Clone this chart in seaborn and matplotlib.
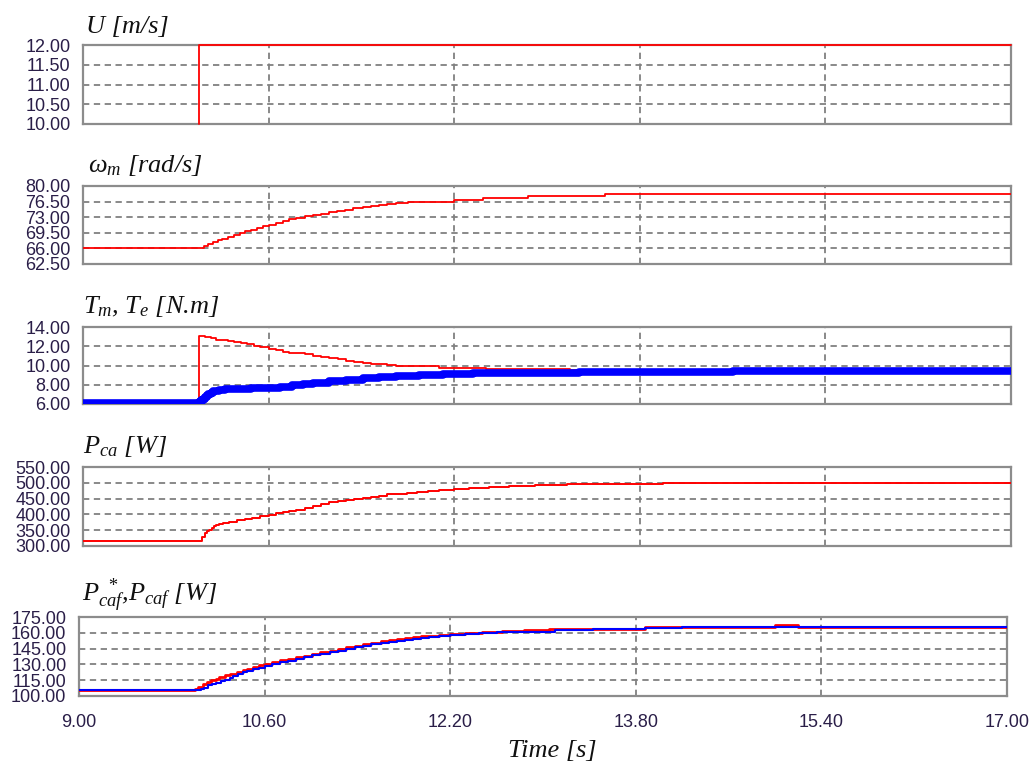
import matplotlib
matplotlib.use("Agg")
import matplotlib.pyplot as plt
import seaborn as sns

# ---------------- data ----------------
x_ticks = [9.00, 10.60, 12.20, 13.80, 15.40, 17.00]

# Panel 1: wind speed U [m/s]
t_u = [10.0, 10.0, 17.0]
u_val = [10.0, 12.0, 12.0]

# Panel 2: rotor speed omega_m [rad/s]
t_w = [9.0, 10.0, 10.04, 10.08, 10.12, 10.16, 10.2, 10.25, 10.3, 10.35, 10.4,
       10.45, 10.5, 10.55, 10.6, 10.66, 10.72, 10.78, 10.84, 10.91, 10.98, 11.05,
       11.12, 11.19, 11.26, 11.33, 11.41, 11.48, 11.55, 11.62, 11.7, 11.8, 11.93,
       12.2, 12.45, 12.84, 13.5, 17.0]
w_val = [66.0, 66.2, 66.6, 67.0, 67.4, 67.8, 68.2, 68.6, 69.0, 69.4, 69.8,
         70.2, 70.6, 71.0, 71.3, 71.7, 72.1, 72.5, 72.8, 73.2, 73.5, 73.8,
         74.1, 74.4, 74.7, 75.0, 75.2, 75.5, 75.7, 75.9, 76.1, 76.3, 76.5,
         76.9, 77.3, 77.8, 78.1, 78.1]

# Panel 3: mechanical torque Tm (red) and electromagnetic torque Te (blue) [N.m]
t_tm = [9.0, 10.0, 10.05, 10.1, 10.15, 10.2, 10.25, 10.3, 10.36, 10.41, 10.47,
        10.53, 10.6, 10.66, 10.72, 10.78, 10.84, 10.91, 10.98, 11.05, 11.12, 11.2,
        11.27, 11.34, 11.41, 11.48, 11.55, 11.62, 11.7, 11.84, 12.07, 12.47, 13.2, 17.0]
tm_val = [6.1, 13.1, 12.95, 12.85, 12.7, 12.6, 12.5, 12.4, 12.3, 12.2, 12.05,
          11.9, 11.7, 11.6, 11.45, 11.35, 11.25, 11.15, 11.0, 10.9, 10.75, 10.65,
          10.5, 10.4, 10.3, 10.2, 10.15, 10.05, 10.0, 9.9, 9.73, 9.6, 9.55, 9.55]
t_te = [9.0, 10.0, 10.02, 10.04, 10.06, 10.08, 10.1, 10.12, 10.14, 10.17, 10.22,
        10.3, 10.45, 10.6, 10.7, 10.8, 10.9, 10.98, 11.12, 11.27, 11.41, 11.55,
        11.7, 11.9, 12.1, 12.36, 12.8, 13.28, 14.6, 17.0]
te_val = [6.1, 6.2, 6.4, 6.6, 6.8, 7.0, 7.15, 7.3, 7.4, 7.5, 7.58,
          7.6, 7.62, 7.68, 7.8, 7.95, 8.1, 8.23, 8.35, 8.48, 8.65, 8.82,
          8.9, 8.98, 9.08, 9.17, 9.22, 9.3, 9.38, 9.38]

# Panel 4: Pca [W]
t_pca = [9.0, 10.03, 10.05, 10.07, 10.09, 10.11, 10.13, 10.15, 10.17, 10.21, 10.26,
         10.33, 10.4, 10.46, 10.53, 10.6, 10.66, 10.72, 10.78, 10.84, 10.91, 10.98,
         11.05, 11.12, 11.2, 11.27, 11.34, 11.41, 11.48, 11.55, 11.62, 11.7, 11.79,
         11.88, 11.97, 12.07, 12.2, 12.33, 12.5, 12.67, 12.9, 13.17, 14.0, 17.0]
pca_val = [317, 330, 340, 347, 352, 357, 362, 366, 369, 373, 376,
           381, 385, 389, 394, 399, 403, 407, 411, 415, 421, 427,
           433, 438, 442, 446, 449, 452, 456, 459, 463, 466, 469,
           471, 474, 476, 479, 482, 486, 489, 493, 497, 500, 500]

# Panel 5: Pcaf* (red, reference) and Pcaf (blue) [W]
t_pref = [9.0, 10.0, 10.03, 10.07, 10.1, 10.14, 10.18, 10.21, 10.26, 10.3, 10.36,
          10.41, 10.45, 10.5, 10.55, 10.6, 10.66, 10.73, 10.8, 10.87, 10.94, 11.01,
          11.08, 11.16, 11.23, 11.3, 11.38, 11.45, 11.52, 11.6, 11.67, 11.74, 11.81,
          11.88, 11.95, 12.02, 12.1, 12.2, 12.33, 12.47, 12.65, 12.84, 13.05, 13.28,
          13.88, 14.2, 15.0, 15.2, 17.0]
pref_val = [105.3, 107, 109, 111.5, 113, 115, 116.5, 118, 119.5, 121, 122.7,
            124.4, 126, 127.5, 129, 130.6, 132.3, 134, 135.4, 136.8, 138.4, 140,
            141.5, 143, 144.7, 146.3, 147.8, 149.4, 150.6, 151.8, 153, 154, 154.9,
            155.7, 156.5, 157.2, 158, 158.8, 159.9, 160.9, 161.7, 162.5, 163.4, 164.0,
            165.9, 165.3, 167.5, 165.3, 165.3]
t_pcaf = [9.0, 10.05, 10.08, 10.11, 10.15, 10.18, 10.22, 10.26, 10.3, 10.33, 10.37,
          10.41, 10.45, 10.5, 10.55, 10.6, 10.66, 10.73, 10.8, 10.87, 10.94, 11.01,
          11.08, 11.16, 11.23, 11.3, 11.38, 11.45, 11.52, 11.6, 11.67, 11.74, 11.81,
          11.88, 11.95, 12.02, 12.1, 12.2, 12.33, 12.45, 12.6, 12.8, 13.1, 13.43,
          13.88, 14.2, 17.0]
pcaf_val = [105.3, 106.5, 108, 110, 111.2, 112.5, 113.8, 115, 117, 119, 121,
            122.8, 124.2, 125.7, 127, 128.4, 130.2, 132, 133.7, 135.3, 137, 138.5,
            140, 141.5, 143.1, 144.7, 146.3, 147.8, 149, 150.2, 151.4, 152.5, 153.4,
            154.2, 154.9, 155.6, 156.9, 158.1, 158.9, 159.7, 160.5, 161.2, 162.5, 164.0,
            165.0, 165.3, 165.3]

titles = ["U [m/s]", r"$\omega_m$ [rad/s]", r"$T_m$, $T_e$ [N.m]",
          r"$P_{ca}$ [W]", r"$P_{caf}^{\ *}$,$P_{caf}$ [W]"]
y_limits = [(10.0, 12.0), (62.5, 80.0), (6.0, 14.0), (300.0, 550.0), (100.0, 175.0)]
y_tick_lists = [[10.0, 10.5, 11.0, 11.5, 12.0],
                [62.5, 66.0, 69.5, 73.0, 76.5, 80.0],
                [6.0, 8.0, 10.0, 12.0, 14.0],
                [300, 350, 400, 450, 500, 550],
                [100, 115, 130, 145, 160, 175]]

# ---------------- style ----------------
sns.set_style("white")
plt.rcParams["font.family"] = ["Liberation Sans", "DejaVu Sans"]
plt.rcParams["mathtext.fontset"] = "custom"
plt.rcParams["mathtext.it"] = "Liberation Serif:italic"
plt.rcParams["mathtext.rm"] = "Liberation Serif:italic"
plt.rcParams["mathtext.bf"] = "Liberation Serif:bold"

W, H = 1030, 769
fig = plt.figure(figsize=(W / 100, H / 100), dpi=100)
fig.patch.set_facecolor("white")

RED = "#ff0000"
BLUE = "#0000ff"
GRID = "#808080"
FRAME = "#8c8c8c"
TICKC = "#2a1e48"

# panel pixel boxes: left, right, top, bottom
boxes = [(83, 1011, 45, 124), (83, 1011, 186, 264), (83, 1011, 327, 404),
         (83, 1011, 467, 546), (79, 1007, 617, 696)]
title_pos = [(86, 33), (88, 172), (83, 313), (83, 453), (82, 602)]

axes = []
for i, (l, r, t, b) in enumerate(boxes):
    ax = fig.add_axes([l / W, (H - b) / H, (r - l) / W, (b - t) / H])
    axes.append(ax)
    ax.set_xlim(9.0, 17.0)
    ax.set_ylim(*y_limits[i])
    ax.set_xticks(x_ticks)
    ax.set_yticks(y_tick_lists[i])
    ax.yaxis.set_major_formatter("{x:.2f}")
    ax.xaxis.set_major_formatter("{x:.2f}")
    ax.tick_params(axis="both", length=0, labelsize=13, labelcolor=TICKC)
    ax.tick_params(axis="y", pad=9)
    ax.tick_params(axis="x", pad=13)
    if i < 4:
        ax.tick_params(axis="x", labelbottom=False)
    ax.set_axisbelow(True)
    ax.grid(True, color=GRID, linestyle=(0, (3.5, 2.5)), linewidth=1.3)
    for sp in ax.spines.values():
        sp.set_color(FRAME)
        sp.set_linewidth(1.6)
        sp.set_visible(True)
    ax.set_facecolor("white")
    fig.text(title_pos[i][0] / W, (H - title_pos[i][1]) / H, titles[i],
             family="Liberation Serif", style="italic", fontsize=19,
             va="baseline", ha="left", color="#111111")

def step(ax, x, y, color, lw, z=3, clip=True):
    sns.lineplot(x=x, y=y, ax=ax, color=color, linewidth=lw, estimator=None,
                 sort=False, drawstyle="steps-post", zorder=z, legend=False,
                 clip_on=clip)

step(axes[0], t_u, u_val, RED, 1.3, clip=False)
step(axes[1], t_w, w_val, RED, 1.3)
step(axes[2], t_tm, tm_val, RED, 1.3, z=3)
step(axes[2], t_te, te_val, BLUE, 5.5, z=4)
step(axes[3], t_pca, pca_val, RED, 1.4)
step(axes[4], t_pref, pref_val, RED, 2.0, z=3)
step(axes[4], t_pcaf, pcaf_val, BLUE, 1.5, z=4)

for ax in axes:
    ax.set_xlabel("")
    ax.set_ylabel("")

axes[4].set_xlabel("Time [s]", family="Liberation Serif", style="italic",
                   fontsize=19, color="#111111")
axes[4].xaxis.set_label_coords((552 - 79) / 928, -0.56)

fig.savefig("out.png", dpi=100, facecolor="white")
